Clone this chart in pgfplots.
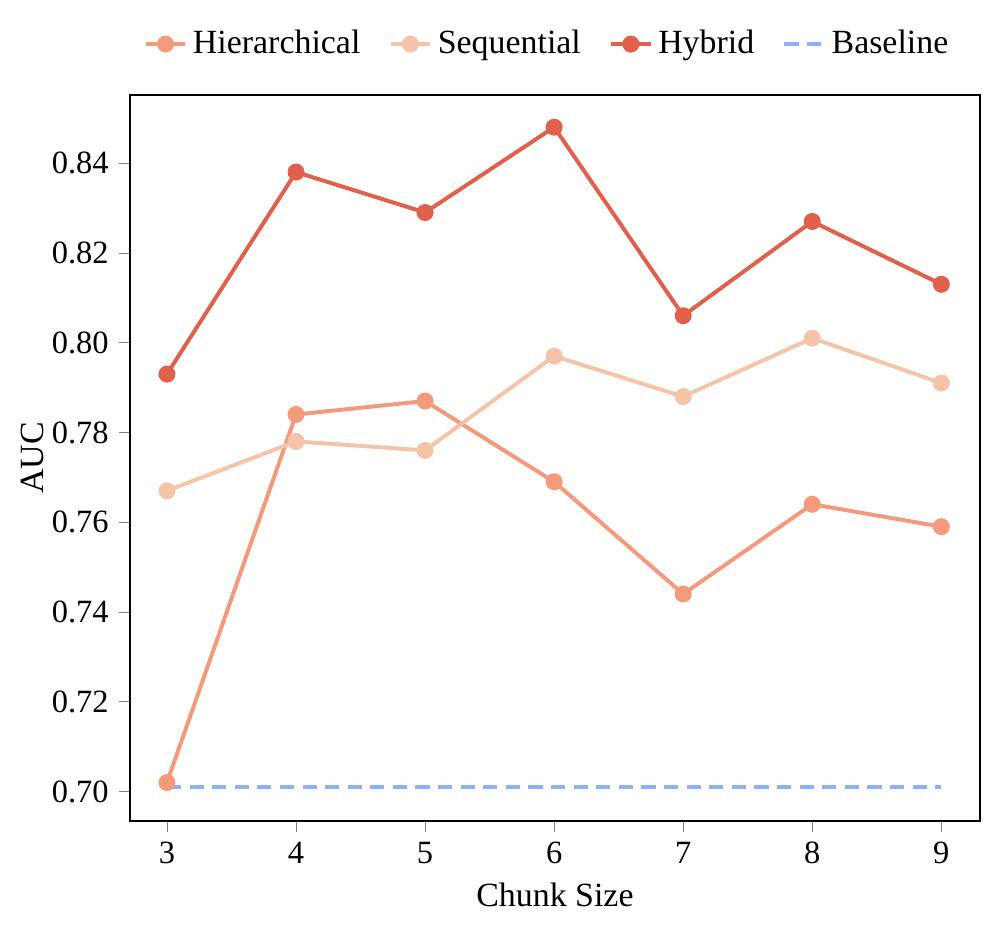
\documentclass[border=0pt]{standalone}
\usepackage{pgfplots}
\pgfplotsset{compat=1.18}
\usepackage{fontspec}
\setmainfont{Liberation Serif}
\definecolor{hier}{HTML}{F4997A}
\definecolor{seqc}{HTML}{F5C4A8}
\definecolor{hyb}{HTML}{E0604B}
\definecolor{base}{HTML}{8DB0FB}
\begin{document}
\begin{tikzpicture}
\begin{axis}[
  width=301pt, height=257pt, scale only axis,
  xmin=2.713, xmax=9.30, ymin=0.6935, ymax=0.8552,
  xtick={3,4,5,6,7,8,9},
  ytick={0.70,0.72,0.74,0.76,0.78,0.80,0.82,0.84},
  yticklabel style={/pgf/number format/.cd,fixed,fixed zerofill,precision=2},
  /pgf/number format/assume math mode=true,
  tick label style={font=\fontsize{11.5}{13}\selectfont},
  label style={font=\fontsize{12}{14}\selectfont},
  ylabel style={yshift=-4pt},
  xlabel={Chunk Size}, ylabel={AUC},
  tick align=outside, tick pos=left,
  major tick length=4pt,
  axis line style={line width=0.6pt},
  legend style={at={(0.98,1.07)}, anchor=east, draw=none, fill=none,
    legend columns=4, font=\fontsize{12}{14}\selectfont,
    /tikz/every even column/.append style={column sep=8pt}},
  legend image code/.code={
    \draw[#1] (0pt,0pt) -- (14pt,0pt);
    \draw[#1,mark repeat=1] plot coordinates {(7pt,0pt)};},
]
\addplot[color=hier, line width=1.4pt, mark=*, mark size=2.3pt] coordinates {
 (3,0.702) (4,0.784) (5,0.787) (6,0.769) (7,0.744) (8,0.764) (9,0.759)};
\addlegendentry{Hierarchical}
\addplot[color=seqc, line width=1.4pt, mark=*, mark size=2.3pt] coordinates {
 (3,0.767) (4,0.778) (5,0.776) (6,0.797) (7,0.788) (8,0.801) (9,0.791)};
\addlegendentry{Sequential}
\addplot[color=hyb, line width=1.4pt, mark=*, mark size=2.3pt] coordinates {
 (3,0.793) (4,0.838) (5,0.829) (6,0.848) (7,0.806) (8,0.827) (9,0.813)};
\addlegendentry{Hybrid}
\addplot[color=base, line width=1.4pt, dash pattern=on 5pt off 3pt, mark=none] coordinates {
 (3,0.701) (4,0.701) (5,0.701) (6,0.701) (7,0.701) (8,0.701) (9,0.701)};
\addlegendentry{Baseline}
\end{axis}
\path ([xshift=6pt,yshift=33.6pt]current axis.north east);
\path ([xshift=-46pt,yshift=-37.5pt]current axis.south west);
\end{tikzpicture}
\end{document}
